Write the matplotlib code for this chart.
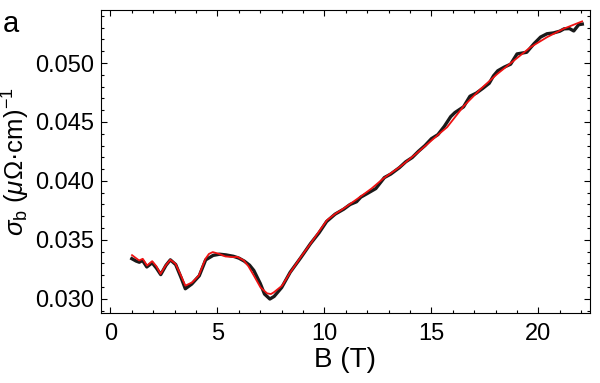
import matplotlib
matplotlib.use("Agg")
import matplotlib.pyplot as plt
from matplotlib.ticker import MultipleLocator, FormatStrFormatter

plt.rcParams["font.family"] = ["Liberation Sans", "DejaVu Sans"]
plt.rcParams["mathtext.fontset"] = "custom"
plt.rcParams["mathtext.rm"] = "Liberation Sans"
plt.rcParams["mathtext.it"] = "Liberation Sans:italic"

b_data = [1.00, 1.20, 1.35, 1.50, 1.70, 1.95, 2.15, 2.35, 2.60, 2.80, 3.05, 3.30,
          3.50, 3.80, 4.15, 4.45, 4.80, 5.10, 5.40, 5.75, 6.00, 6.25, 6.50, 6.70,
          7.00, 7.20, 7.45, 7.65, 8.00, 8.40, 8.90, 9.35, 9.75, 10.10, 10.50,
          10.90, 11.20, 11.50, 11.70, 12.00, 12.40, 12.80, 13.10, 13.50, 13.80,
          14.10, 14.40, 14.70, 15.00, 15.30, 15.60, 15.90, 16.10, 16.50, 16.80,
          17.10, 17.40, 17.70, 17.90, 18.10, 18.40, 18.70, 19.00, 19.45, 19.80,
          20.10, 20.40, 20.70, 21.00, 21.20, 21.45, 21.65, 21.88, 22.05]
s_data = [0.03340, 0.03320, 0.03310, 0.03325, 0.03270, 0.03305, 0.03260, 0.03205,
          0.03285, 0.03330, 0.03290, 0.03180, 0.03085, 0.03125, 0.03195, 0.03330,
          0.03368, 0.03378, 0.03372, 0.03360, 0.03345, 0.03320, 0.03285, 0.03240,
          0.03130, 0.03040, 0.02998, 0.03020, 0.03095, 0.03225, 0.03350, 0.03468,
          0.03560, 0.03655, 0.03718, 0.03760, 0.03800, 0.03823, 0.03862, 0.03893,
          0.03935, 0.04028, 0.04058, 0.04112, 0.04162, 0.04198, 0.04252, 0.04300,
          0.04358, 0.04392, 0.04462, 0.04545, 0.04580, 0.04628, 0.04718, 0.04745,
          0.04785, 0.04828, 0.04891, 0.04934, 0.04965, 0.04990, 0.05077, 0.05091,
          0.05165, 0.05220, 0.05248, 0.05255, 0.05270, 0.05290, 0.05292, 0.05272,
          0.05325, 0.05330]

# fit (red)
b_fit = [1.01, 1.17, 1.34, 1.51, 1.71, 1.95, 2.15, 2.34, 2.57, 2.80, 3.04, 3.25,
         3.50, 3.82, 4.13, 4.44, 4.60, 4.78, 5.06, 5.37, 5.76, 5.92, 6.23, 6.45,
         6.70, 7.01, 7.32, 7.50, 7.63, 8.02, 8.41, 8.88, 9.35, 9.73, 10.12, 10.50,
         10.90, 11.68, 12.20, 12.77, 13.55, 14.33, 15.42, 15.73, 16.51, 17.29,
         18.07, 18.85, 19.63, 20.41, 21.18, 22.04]
s_fit = [0.03370, 0.03348, 0.03325, 0.03339, 0.03282, 0.03319, 0.03275, 0.03211,
         0.03280, 0.03331, 0.03297, 0.03215, 0.03111, 0.03139, 0.03197, 0.03339,
         0.03380, 0.03396, 0.03382, 0.03359, 0.03353, 0.03356, 0.03325, 0.03275,
         0.03197, 0.03097, 0.03046, 0.03040, 0.03054, 0.03111, 0.03225, 0.03350,
         0.03468, 0.03567, 0.03667, 0.03720, 0.03766, 0.03866, 0.03935, 0.04023,
         0.04122, 0.04237, 0.04408, 0.04455, 0.04635, 0.04778, 0.04906, 0.05020,
         0.05134, 0.05220, 0.05291, 0.05353]

fig = plt.figure(figsize=(6.0, 3.83), dpi=100)
ax = fig.add_axes([0.168, 0.183, 0.815, 0.791])

ax.plot(b_data, s_data, color="#1a1a1a", lw=2.4, solid_joinstyle="round")
ax.plot(b_fit, s_fit, color="#ee1111", lw=1.3, solid_joinstyle="round")

ax.set_xlim(-0.45, 22.4)
ax.set_ylim(0.0288, 0.0545)
ax.xaxis.set_major_locator(MultipleLocator(5))
ax.xaxis.set_minor_locator(MultipleLocator(1))
ax.yaxis.set_major_locator(MultipleLocator(0.005))
ax.yaxis.set_minor_locator(MultipleLocator(0.001))
ax.yaxis.set_major_formatter(FormatStrFormatter("%.3f"))

ax.tick_params(which="both", direction="in", top=True, right=True,
               labelsize=17, width=0.8)
ax.tick_params(which="major", length=4.5)
ax.tick_params(which="minor", length=2.2)
ax.tick_params(axis="x", which="major", pad=7)
ax.tick_params(axis="y", which="major", pad=5)
for sp in ax.spines.values():
    sp.set_linewidth(0.8)

ax.set_xlabel("B (T)", fontsize=20, labelpad=2)
ax.set_ylabel(r"$\sigma_{\mathrm{b}}$ ($\mu\Omega$·cm)$^{-1}$", fontsize=18.5)
ax.yaxis.set_label_coords(-0.140, 0.5)
fig.text(0.005, 0.975, "a", fontsize=21, va="top", ha="left")

fig.savefig("out.png", dpi=100)
